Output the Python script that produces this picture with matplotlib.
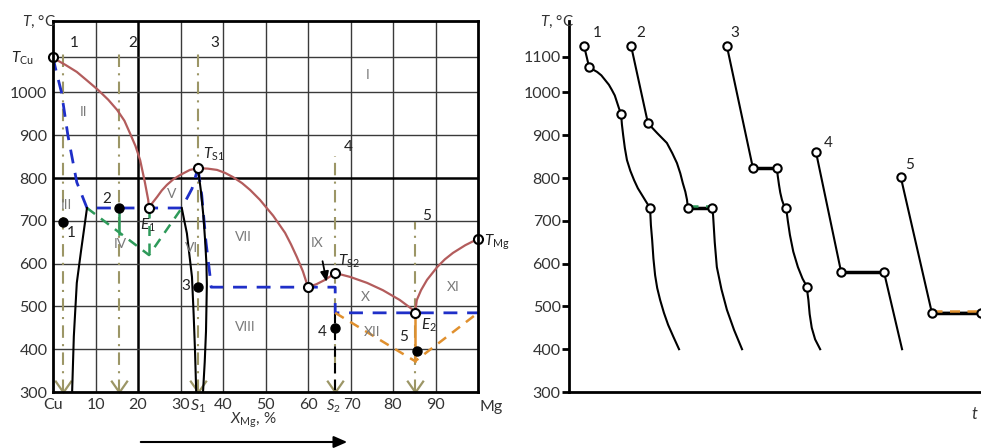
import numpy as np
import matplotlib
matplotlib.use("Agg")
import matplotlib.pyplot as plt
from matplotlib.path import Path

plt.rcParams['font.family'] = ['Lato', 'DejaVu Sans']
plt.rcParams['mathtext.fontset'] = 'custom'
plt.rcParams['mathtext.rm'] = 'Lato'
plt.rcParams['mathtext.it'] = 'Lato:italic'

# ---- phase diagram data (x = at.% Mg, T in degC) ----
liq_x = [0, 0.5, 3, 5.6, 8, 10.6, 13, 15.1, 16.8, 18.1, 19.4, 20.5, 21.6, 22.4, 22.6,
         23.4, 24.5, 25.6, 26.8, 28.3, 29.9, 32.2, 34.1, 36.4, 38.6, 40.5, 42.4, 44.5,
         46.4, 48.7, 50.2, 51.8, 53.2, 54.6, 56, 57.4, 58.8, 60,
         62, 64, 66.4, 69.9, 73.9, 77.6, 81.6, 84.7, 85.2,
         85.6, 86.6, 88, 90.4, 92.2, 94.1, 97, 100]
liq_T = [1083, 1078, 1064, 1048, 1028, 1006, 983, 959, 934, 905, 875, 842, 791, 749, 730,
         742, 756, 771, 784, 797, 807, 819, 823, 822, 819, 812, 802, 788,
         772, 749, 731, 712, 692, 672, 645, 615, 582, 545,
         552, 562, 578, 569, 555, 538, 515, 492, 485,
         515, 538, 562, 592, 610, 625, 643, 658]

blue1_x = [0, 0.5, 2, 3.5, 5.6, 8, 30.3, 32.7, 34.1]
blue1_T = [1083, 1060, 1000, 900, 790, 730, 730, 775, 823]
blue2_x = [34.1, 35, 36, 36.9, 37.2, 66.4, 66.4, 100]
blue2_T = [823, 760, 650, 575, 545, 545, 485, 485]

green_x = [8, 22.6, 30.3]
green_T = [730, 620, 730]
green_eut_x = [22.6, 22.6]
green_eut_T = [730, 620]
green2_x = [15.6, 15.6]
green2_T = [730, 670]

orange_x = [66.4, 85.2, 100]
orange_T = [485, 372, 485]
orange_v_x = [85.2, 85.2]
orange_v_T = [485, 372]

solvus_cu_x = [8, 7.3, 6.6, 5.6, 4.9, 4.5]
solvus_cu_T = [730, 680, 630, 555, 430, 300]
s1_left_x = [30.3, 30.9, 31.5, 32.1, 32.7, 33.1, 33.4, 33.7]
s1_left_T = [730, 700, 671, 620, 569, 480, 400, 300]
s1_right_x = [34.1, 34.8, 35.4, 35.8, 36.1, 36.2, 36.1, 36, 35.7, 35.3]
s1_right_T = [823, 770, 710, 653, 600, 552, 495, 442, 370, 300]

open_x = [0, 22.6, 34.1, 60, 66.4, 85.2, 100]
open_T = [1083, 730, 823, 545, 578, 485, 658]

dot_x = [2.4, 15.6, 34.1, 66.4, 85.6]
dot_T = [698, 730, 545, 449, 395]
dot_lab = ['1', '2', '3', '4', '5']
dot_lab_x = [4.2, 12.7, 31.2, 63.3, 82.4]
dot_lab_T = [672, 752, 548, 440, 428]

sect_x = [2.4, 15.6, 34.1, 66.4, 85.2]
sect_top = [1098, 1098, 1098, 852, 697]
sect_lab_x = [4.9, 18.8, 38.1, 69.4, 88]
sect_lab_T = [1115, 1115, 1115, 872, 711]

regions = ['I', 'II', 'III', 'IV', 'V', 'VI', 'VII', 'VIII', 'IX', 'X', 'XI', 'XII']
reg_x = [74.1, 7.1, 3.1, 15.8, 28, 32.5, 44.7, 45.2, 62.1, 73.4, 94.1, 75.1]
reg_T = [1041, 954, 737, 646, 763, 636, 662, 452, 648, 522, 545, 440]

xticks = [0, 10, 20, 30, 34.1, 40, 50, 60, 66.0, 70.4, 80, 90]
xtick_lab = ['Cu', '10', '20', '30', '$S_1$', '40', '50', '60', '$S_2$', '70', '80', '90']
yticks = [300, 400, 500, 600, 700, 800, 900, 1000]
grid_x = [10, 20, 30, 40, 50, 60, 70, 80, 90]
grid_T = [400, 500, 600, 700, 800, 900, 1000, 1083]

# ---- cooling curves (t arbitrary units, T degC) ----
c1_t = [3.6, 4.8, 5.8, 6.7, 7.7, 8.6, 9.5, 10.2, 10.9, 11.4, 11.9, 12.4,
        12.6, 12.9, 13.3, 13.8, 14.6, 15.5, 16.4, 17.4, 18.4, 19.3,
        19.5, 19.8, 20.1, 20.5, 21.0, 21.7, 22.6, 23.6, 24.9, 26.2]
c1_T = [1108, 1059, 1053, 1048, 1040, 1029, 1018, 1006, 993, 978, 963, 950,
        925, 900, 870, 842, 817, 795, 776, 760, 744, 730,
        690, 655, 612, 573, 543, 515, 485, 457, 428, 400]
c1_mk_t = [3.6, 4.8, 12.4, 19.3]
c1_mk_T = [1108, 1059, 950, 730]
c2_t = [14.8, 18.8, 21.0, 23.3, 24.6, 25.7, 26.5, 27.1, 27.7, 28.1, 28.3, 34.0,
        34.3, 34.7, 35.2, 36.3, 37.6, 39.3, 41.2]
c2_T = [1108, 928, 905, 882, 858, 835, 811, 788, 768, 749, 730, 730,
        714, 650, 592, 540, 492, 445, 400]
c2_mk_t = [14.8, 18.8, 28.3, 34.0]
c2_mk_T = [1108, 928, 730, 730]
c3_t = [37.6, 43.8, 49.5, 49.7, 50.0, 50.3, 50.7, 51.1, 51.7, 52.1, 52.6, 53.4,
        54.5, 55.6, 56.7, 56.8, 57.0, 57.3, 57.8, 58.6, 59.8]
c3_T = [1108, 823, 823, 805, 784, 766, 749, 738, 730, 700, 667, 628,
        592, 565, 545, 530, 515, 482, 450, 423, 400]
c3_mk_t = [37.6, 43.8, 49.5, 51.7, 56.7]
c3_mk_T = [1108, 823, 823, 730, 545]
c4_t = [58.8, 64.8, 75.0, 79.3]
c4_T = [861, 580, 580, 400]
c4_mk_t = [58.8, 64.8, 75.0]
c4_mk_T = [861, 580, 580]
c5_t = [79.0, 86.4, 98.1]
c5_T = [802, 485, 485]
c5_mk_t = [79.0, 86.4, 98.1]
c5_mk_T = [802, 485, 485]
curve_lab = ['1', '2', '3', '4', '5']
curve_lab_t = [6.7, 17.1, 39.5, 61.7, 81.2]
curve_lab_T = [1139, 1139, 1139, 882, 830]
r_yticks = [300, 400, 500, 600, 700, 800, 900, 1000, 1083]
r_ytick_lab = ['300', '400', '500', '600', '700', '800', '900', '1000', '1100']

red = '#b35c5c'
blue = '#1f2fc8'
green = '#2e9a5a'
orange = '#e0902e'
olive = '#9c9666'
gray = '#7a7a7a'

fig = plt.figure(figsize=(9.81, 4.48), dpi=100)
ax = fig.add_axes([53 / 981, 56 / 448, 425 / 981, 371 / 448])
ax.set_xlim(0, 100)
ax.set_ylim(300, 1167)

for g in grid_x:
    ax.axvline(g, color='black' if g == 20 else '#3a3a3a', lw=1.8 if g == 20 else 1.0, zorder=1)
for g in grid_T:
    ax.axhline(g, color='black' if g == 800 else '#3a3a3a', lw=1.8 if g == 800 else 1.0, zorder=1)

# section lines
chev = Path([(-0.7, 1), (0, 0), (0.7, 1)], [Path.MOVETO, Path.LINETO, Path.LINETO])
for i in range(len(sect_x)):
    ax.plot([sect_x[i], sect_x[i]], [300, sect_top[i]], color=olive, lw=1.5,
            linestyle=(0, (6, 3, 1, 3)), zorder=2)
    ax.plot(sect_x[i], 300, marker=chev, ms=17, mfc='none', mec=olive, mew=1.6,
            clip_on=False, zorder=3)
    ax.text(sect_lab_x[i], sect_lab_T[i], str(i + 1), fontsize=11, color='#222',
            ha='center', va='center')

ax.plot([66.4, 66.4], [485, 300], color='black', lw=1.5, dashes=(5, 3), zorder=3)

ax.plot(liq_x, liq_T, color=red, lw=1.6, zorder=4)
ax.plot(blue1_x, blue1_T, color=blue, lw=2, dashes=(5, 3.5), zorder=4)
ax.plot(blue2_x, blue2_T, color=blue, lw=2, dashes=(5, 3.5), zorder=4)
ax.plot(green_x, green_T, color=green, lw=1.8, dashes=(4, 3), zorder=4)
ax.plot(green_eut_x, green_eut_T, color=green, lw=1.8, dashes=(4, 3), zorder=4)
ax.plot(green2_x, green2_T, color=green, lw=1.8, zorder=4)
ax.plot(orange_x, orange_T, color=orange, lw=1.8, dashes=(4, 3), zorder=4)
ax.plot(orange_v_x, orange_v_T, color=orange, lw=1.8, zorder=4)
ax.plot(solvus_cu_x, solvus_cu_T, color='black', lw=1.5, zorder=4)
ax.plot(s1_left_x, s1_left_T, color='black', lw=1.5, zorder=4)
ax.plot(s1_right_x, s1_right_T, color='black', lw=1.5, zorder=4)

ax.plot(open_x, open_T, 'o', ms=6.5, mfc='white', mec='black', mew=1.5,
        clip_on=False, zorder=6)
ax.plot(dot_x, dot_T, 'o', ms=6.5, color='black', zorder=6)
for i in range(len(dot_lab)):
    ax.text(dot_lab_x[i], dot_lab_T[i], dot_lab[i], fontsize=11, color='#222',
            ha='center', va='center', zorder=7)

for i in range(len(regions)):
    ax.text(reg_x[i], reg_T[i], regions[i], fontsize=10, color=gray,
            ha='center', va='center', zorder=5)

ax.annotate('', xy=(64.5, 551), xytext=(63.3, 612),
            arrowprops=dict(arrowstyle='-|>,head_length=0.6,head_width=0.25',
                            color='black', lw=1.3), zorder=7)

ax.text(-4.5, 1080, '$T_{\\rm Cu}$', fontsize=11, ha='right', va='center', color='#222')
ax.text(22.3, 690, '$E_1$', fontsize=11, ha='center', va='center', color='#222', zorder=7)
ax.text(35.3, 855, '$T_{\\rm S1}$', fontsize=11, ha='left', va='center', color='#222')
ax.text(67.0, 605, '$T_{\\rm S2}$', fontsize=11, ha='left', va='center', color='#222')
ax.text(86.5, 455, '$E_2$', fontsize=11, ha='left', va='center', color='#222')
ax.text(101.5, 650, '$T_{\\rm Mg}$', fontsize=11, ha='left', va='center', color='#222')
ax.text(103, 281, 'Mg', fontsize=11.5, ha='center', va='top', color='#333')

ax.set_xticks(xticks)
ax.set_xticklabels(xtick_lab)
ax.set_yticks(yticks)
ax.tick_params(length=0, labelsize=11.5, colors='#333', pad=4)
ax.get_xticklabels()[8].set_fontsize(10.5)
ax.get_xticklabels()[9].set_fontsize(11)
for s in ax.spines.values():
    s.set_linewidth(2)
    s.set_zorder(8)

fig.text(22 / 981, 1 - 22 / 448, '$T$, °C', fontsize=11, ha='left', va='center', color='#333')
fig.text(253 / 981, 1 - 420 / 448, '$X_{\\rm Mg}$, %', fontsize=11, ha='center', va='center', color='#333')
fig.add_artist(matplotlib.patches.FancyArrowPatch(
    (138 / 981, 1 - 442 / 448), (350 / 981, 1 - 442 / 448), transform=fig.transFigure,
    arrowstyle='-|>,head_length=8,head_width=3.5', mutation_scale=1, color='black', lw=1.5))

# ---- right panel ----
ax2 = fig.add_axes([569 / 981, 56 / 448, 420 / 981, 371 / 448])
ax2.set_xlim(0, 100)
ax2.set_ylim(300, 1167)
ax2.spines['top'].set_visible(False)
ax2.spines['right'].set_visible(False)
ax2.spines['left'].set_linewidth(2)
ax2.spines['bottom'].set_linewidth(2)
ax2.set_xticks([])
ax2.set_yticks(r_yticks)
ax2.set_yticklabels(r_ytick_lab)
ax2.tick_params(axis='y', length=5, width=2, labelsize=11.5, colors='#333', pad=1)
ax2.tick_params(axis='y', color='black')

ax2.plot([c2_mk_t[2], c2_mk_t[3]], [c2_mk_T[2] + 5, c2_mk_T[3] + 5], color=green, lw=1.8,
         dashes=(4, 3), zorder=3)
ax2.plot([c5_mk_t[1], c5_mk_t[2]], [c5_mk_T[1] + 5, c5_mk_T[2] + 5], color=orange, lw=1.8,
         dashes=(4, 3), zorder=3)

curves = [(c1_t, c1_T, c1_mk_t, c1_mk_T), (c2_t, c2_T, c2_mk_t, c2_mk_T),
          (c3_t, c3_T, c3_mk_t, c3_mk_T), (c4_t, c4_T, c4_mk_t, c4_mk_T),
          (c5_t, c5_T, c5_mk_t, c5_mk_T)]
for t, T, mt, mT in curves:
    ax2.plot(t, T, color='black', lw=1.5, zorder=2)
    for j in range(len(t) - 1):
        if T[j] == T[j + 1]:
            ax2.plot(t[j:j + 2], T[j:j + 2], color='black', lw=2.5, zorder=2)
    ax2.plot(mt, mT, 'o', ms=6, mfc='white', mec='black', mew=1.5, zorder=5, clip_on=False)
for i in range(len(curve_lab)):
    ax2.text(curve_lab_t[i], curve_lab_T[i], curve_lab[i], fontsize=11, color='#222',
             ha='center', va='center')

fig.text(540 / 981, 1 - 22 / 448, '$T$, °C', fontsize=11, ha='left', va='center', color='#333')
fig.text(975 / 981, 1 - 414 / 448, '$t$', fontsize=12, ha='center', va='center', color='#333')

fig.savefig('out.png', dpi=100)
